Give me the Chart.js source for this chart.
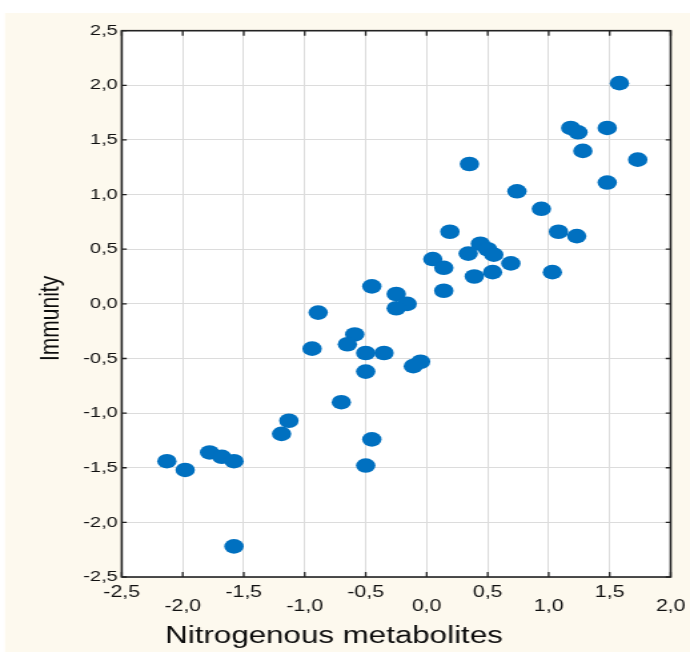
<!DOCTYPE html>
<html>
<head>
<meta charset="utf-8">
<title>Immunity vs Nitrogenous metabolites</title>
<script src="https://cdn.jsdelivr.net/npm/chart.js@4.4.0/dist/chart.umd.min.js"></script>
<style>
  html, body { margin: 0; padding: 0; background: #ffffff; }
  #wrap { width: 690px; height: 652px; overflow: hidden; }
  /* the original figure is stretched sideways, so the canvas is too */
  #scatter { transform: scaleX(1.332); transform-origin: 0 0; }
</style>
</head>
<body>
<div id="wrap"><canvas id="scatter" width="518" height="652"></canvas></div>
<script>
// Values
const metabolites = [
    1.58, 1.18, 1.24, 1.48, 1.28, 1.73, 0.35, 1.48, 0.74, 0.94, 1.08, 1.23,
    0.19, 0.44, 0.50, 0.55, 0.34, 0.05, 0.14, 0.69, 0.39, 0.54, 1.03, 0.14,
    -0.45, -0.25, -0.16, -0.25, -0.89, -0.59, -0.65, -0.94, -0.50, -0.35, -0.05, -0.11,
    -0.50, -0.70, -1.13, -1.19, -0.45, -0.50, -2.13, -1.98, -1.78, -1.68, -1.58, -1.58
];
const immunity = [
    2.02, 1.61, 1.57, 1.61, 1.40, 1.32, 1.28, 1.11, 1.03, 0.87, 0.66, 0.62,
    0.66, 0.55, 0.50, 0.45, 0.46, 0.41, 0.33, 0.37, 0.25, 0.29, 0.29, 0.12,
    0.16, 0.09, 0.00, -0.04, -0.08, -0.28, -0.37, -0.41, -0.45, -0.45, -0.53, -0.57,
    -0.62, -0.90, -1.07, -1.19, -1.24, -1.48, -1.44, -1.52, -1.36, -1.40, -1.44, -2.22
];

// Tick labels (decimal comma)
const xTickLabels = ['-2,5', '-2,0', '-1,5', '-1,0', '-0,5', '0,0', '0,5', '1,0', '1,5', '2,0'];
const yTickLabels = ['-2,5', '-2,0', '-1,5', '-1,0', '-0,5', '0,0', '0,5', '1,0', '1,5', '2,0', '2,5'];

Chart.defaults.font.family = "'Liberation Sans', Arial, sans-serif";

// Cream page, white plot, dark frame with inward tick marks
const framePlugin = {
    id: 'frame',
    beforeDraw(chart) {
        const { ctx, chartArea: a } = chart;
        ctx.save();
        ctx.fillStyle = '#fdf9ee';
        ctx.fillRect(3.75, 13, chart.width, chart.height);
        ctx.fillStyle = '#ffffff';
        ctx.fillRect(a.left, a.top, a.right - a.left, a.bottom - a.top);
        ctx.restore();
    },
    afterDraw(chart) {
        const { ctx, chartArea: a, scales: { x, y } } = chart;
        ctx.save();
        ctx.strokeStyle = '#222222';
        ctx.lineWidth = 1.3;
        ctx.beginPath();
        x.ticks.forEach(t => {
            const px = x.getPixelForValue(t.value);
            ctx.moveTo(px, a.top);
            ctx.lineTo(px, a.top + 5);
            ctx.moveTo(px, a.bottom);
            ctx.lineTo(px, a.bottom - 5);
        });
        y.ticks.forEach(t => {
            const py = y.getPixelForValue(t.value);
            ctx.moveTo(a.left, py);
            ctx.lineTo(a.left + 3.75, py);
            ctx.moveTo(a.right, py);
            ctx.lineTo(a.right - 3.75, py);
        });
        ctx.stroke();
        ctx.lineWidth = 1.6;
        ctx.strokeRect(a.left, a.top, a.right - a.left, a.bottom - a.top);
        ctx.restore();
    }
};

const ctx = document.getElementById('scatter').getContext('2d');

const scatterChart = new Chart(ctx, {
    type: 'scatter',
    data: {
        datasets: [{
            data: metabolites.map((v, i) => ({ x: v, y: immunity[i] })),
            backgroundColor: '#0070c0',
            borderWidth: 0,
            pointRadius: 7.3,
            pointHoverRadius: 7.3,
        }]
    },
    options: {
        responsive: false,
        animation: false,
        devicePixelRatio: 1,
        layout: {
            padding: { left: 0, right: 14.5, top: 30.7, bottom: 0 }
        },
        plugins: {
            legend: { display: false },
            tooltip: { enabled: false },
        },
        scales: {
            x: {
                type: 'linear',
                min: -2.5,
                max: 2,
                afterFit: (scale) => {
                    scale.height = 75;
                    // keep the plot width fixed, the end labels fit in the margins
                    scale.paddingLeft = 0;
                    scale.paddingRight = 0;
                },
                border: { display: false },
                grid: {
                    color: '#dcdcdc',
                    lineWidth: 1,
                    drawTicks: false,
                },
                ticks: {
                    stepSize: 0.5,
                    autoSkip: false,
                    maxRotation: 0,
                    padding: 9,
                    color: '#111111',
                    font: { size: 16, lineHeight: 0.86 },
                    // every other label sits one row lower
                    callback: (value, index) => index % 2 ? ['', xTickLabels[index]] : xTickLabels[index],
                },
                title: {
                    display: true,
                    text: '     Nitrogenous metabolites',
                    align: 'start',
                    color: '#0d0d0d',
                    font: { size: 23.5 },
                    padding: { top: 0, bottom: 1 },
                },
            },
            y: {
                min: -2.5,
                max: 2.5,
                afterFit: (scale) => { scale.width = 91.4; },
                border: { display: false },
                grid: {
                    color: '#dcdcdc',
                    lineWidth: 1,
                    drawTicks: false,
                },
                ticks: {
                    stepSize: 0.5,
                    padding: 3,
                    color: '#111111',
                    font: { size: 15 },
                    callback: (value, index) => yTickLabels[index],
                },
                title: {
                    display: true,
                    text: 'Immunity     ',
                    color: '#0d0d0d',
                    font: { size: 21 },
                    padding: { top: 25.7, bottom: 0 },
                },
            },
        },
    },
    plugins: [framePlugin],
});
</script>
</body>
</html>
